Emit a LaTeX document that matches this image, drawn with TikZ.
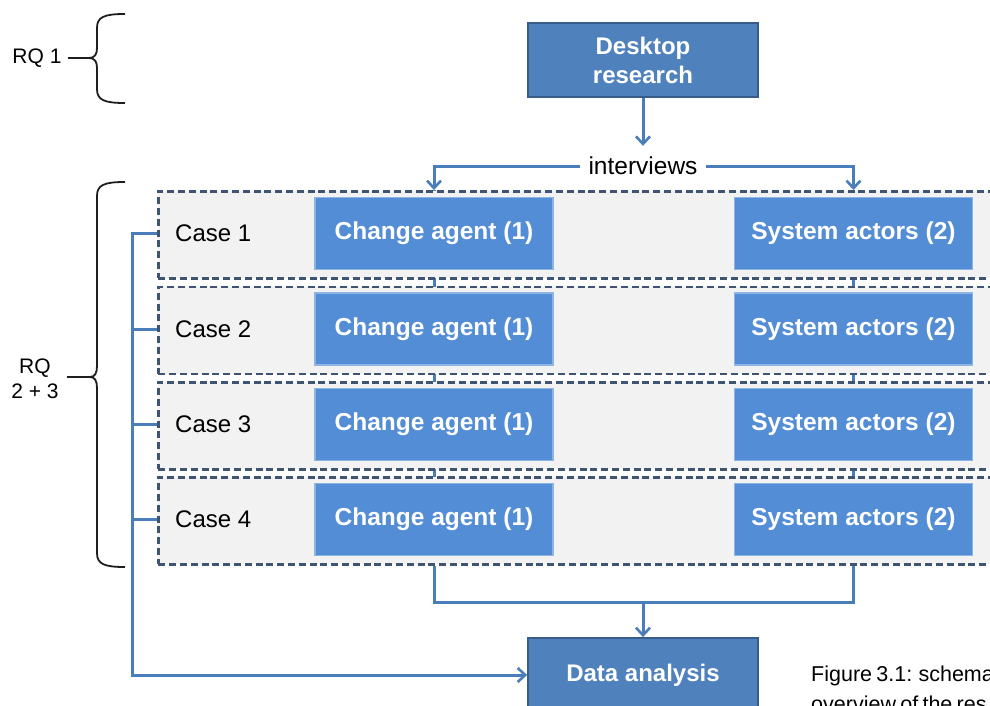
\documentclass[tikz,border=0pt]{standalone}
\usepackage{fontspec}
\setmainfont{Liberation Sans}
\usetikzlibrary{arrows.meta}

\definecolor{darkbox}{RGB}{79,129,189}
\definecolor{darkedge}{RGB}{56,93,138}
\definecolor{lightbox}{RGB}{83,141,213}
\definecolor{lightedge}{RGB}{142,180,227}
\definecolor{wire}{RGB}{74,126,187}
\definecolor{dashcol}{RGB}{62,84,112}
\definecolor{casefill}{RGB}{242,242,242}
\definecolor{inkcol}{RGB}{30,30,30}

\newcommand{\tightcaption}{\fontsize{21.5}{30}\selectfont\spaceskip=0.2em\relax}

\begin{document}
\begin{tikzpicture}[x=1pt,y=-1pt,
  darkstep/.style={draw=darkedge, line width=1.8pt, fill=darkbox, text=white,
    font=\fontsize{24}{29}\selectfont\bfseries, align=center,
    minimum width=230pt, minimum height=74pt, inner sep=0pt},
  rolebox/.style={draw=lightedge, line width=1.8pt, fill=lightbox, text=white,
    font=\fontsize{24.5}{29}\selectfont\bfseries,
    minimum width=238pt, minimum height=72pt, inner sep=0pt},
  casebox/.style={draw=dashcol, line width=2.8pt, dash pattern=on 7pt off 3.8pt,
    fill=casefill, anchor=north west, minimum width=850pt, minimum height=87pt,
    inner sep=0pt},
  caselabel/.style={font=\fontsize{24}{29}\selectfont, anchor=west, inner sep=0pt},
  wire/.style={draw=wire, line width=3pt},
  tip/.style={-{Straight Barb[length=7.5pt,width=14pt,line width=2.6pt]}},
  bracket/.style={draw=inkcol, line width=1.8pt},
  rqlabel/.style={font=\fontsize{21}{25}\selectfont, align=center, inner sep=3pt},
  captext/.style={anchor=base west, inner sep=0pt, font=\tightcaption}
]
\useasboundingbox (0,0) rectangle (990,706);
\clip (0,0) rectangle (990,706);

% top stage and split
\node[darkstep] (desk) at (643,60) {Desktop\\research};
\node[font=\fontsize{24.5}{29}\selectfont, inner xsep=8pt, inner ysep=2pt] (intv) at (643,166) {interviews};

% vertical guides behind the case rows (visible in the gaps)
\coordinate (colL) at (434,190);
\coordinate (colR) at (853,190);
\draw[wire] (colL) -- (434,562);
\draw[wire] (colR) -- (853,562);

% case rows
\foreach \i/\y in {1/190,2/285.5,3/381,4/476}{
  \node[casebox] (case\i) at (157,\y) {};
  \node[caselabel] (lab\i) at (175,\y+43.5) {Case \i};
  \node[rolebox] (ca\i) at (434,\y+43.5) {Change agent (1)};
  \node[rolebox] (sa\i) at (853.5,\y+43.5) {System actors (2)};
}

% final stage
\node[darkstep] (data) at (643,675) {Data analysis};

% connectors
\draw[wire, tip] (desk.south) -- ([yshift=9pt]intv.north);
\draw[wire, tip] (intv.west) -| (ca1.north |- case1.north);
\draw[wire, tip] (intv.east) -| (sa1.north |- case1.north);

\coordinate (join) at (643,602);
\draw[wire] (ca4.south |- case4.south) |- (join) -| (sa4.south |- case4.south);
\draw[wire, tip] (join) -- (data.north);

\coordinate (spine) at (132,233.5);
\draw[wire, tip] (case1.west |- lab1) -- (spine) |- (data.west);
\draw[wire] (case2.west |- lab2) -- (spine |- lab2);
\draw[wire] (case3.west |- lab3) -- (spine |- lab3);
\draw[wire] (case4.west |- lab4) -- (spine |- lab4);

% research-question brackets
\coordinate (cusp1) at (89,58);
\coordinate (cusp2) at (90,377);
\draw[bracket] (125,14) .. controls (104,14) and (97,17) .. (97,28) -- (97,48)
  .. controls (97,54) and (95,58) .. (cusp1)
  .. controls (95,58) and (97,62) .. (97,68) -- (97,89)
  .. controls (97,100) and (104,103) .. (125,103);
\draw[bracket] (125,182) .. controls (104,182) and (97,185) .. (97,196) -- (97,366)
  .. controls (97,373) and (95,377) .. (cusp2)
  .. controls (95,377) and (97,381) .. (97,388) -- (97,553)
  .. controls (97,564) and (104,567) .. (125,567);

\node[rqlabel] (rq1) at (37,58) {RQ 1};
\node[rqlabel] (rq23) at (35,379) {RQ\\2 + 3};
\draw[bracket] ([xshift=3pt]rq1.east) -- (cusp1);
\draw[bracket] ([xshift=5pt]rq23.east |- cusp2) -- (cusp2);

% caption
\node[captext] (cap) at (811,681) {Figure 3.1: schema};
\node[captext] (cap2) at (811,711) {overview of the res};
\end{tikzpicture}
\end{document}
